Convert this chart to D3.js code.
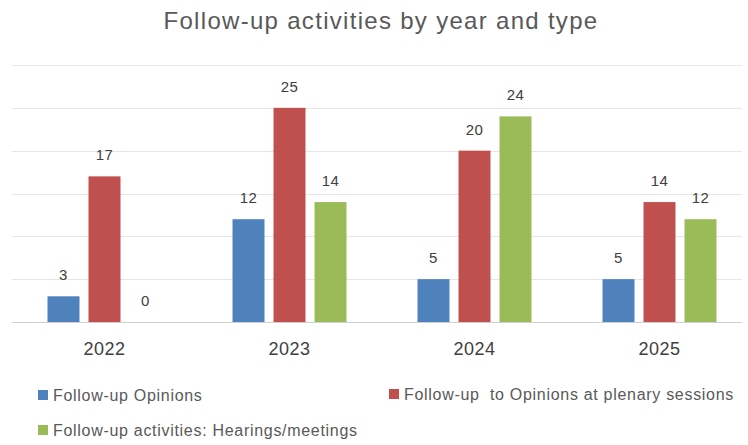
<!DOCTYPE html>
<html>
<head>
<meta charset="utf-8">
<script src="https://cdn.jsdelivr.net/npm/d3@7"></script>
<style>
  html, body { margin: 0; padding: 0; background: #fff; }
  svg { display: block; }
</style>
</head>
<body>
<div id="chart"></div>
<script>
(function () {
	// Data
	const YEARS = ["2022", "2023", "2024", "2025"];
	const SERIES = [
		"Follow-up Opinions",
		"Follow-up  to Opinions at plenary sessions",
		"Follow-up activities: Hearings/meetings",
	];
	const OPINIONS = [3, 12, 5, 5];
	const PLENARY = [17, 25, 20, 14];
	const HEARINGS = [0, 14, 24, 12];
	const Y_TICKS = [0, 5, 10, 15, 20, 25, 30];

	const COLORS = ["#4F81BD", "#C0504D", "#9BBB59"];
	const TEXT = "#595959";
	const FONT = "'Liberation Sans', Arial, sans-serif";

	const width = 748;
	const height = 445;

	const svg = d3.select("#chart")
		.append("svg")
		.attr("width", width)
		.attr("height", height);

	// Title
	svg.append("text")
		.attr("x", 381)
		.attr("y", 29)
		.attr("text-anchor", "middle")
		.style("font-family", FONT)
		.style("font-size", "24px")
		.style("letter-spacing", "1.3px")
		.style("fill", TEXT)
		.text("Follow-up activities by year and type");

	const data = YEARS.map((yr, i) => ({
		year: yr,
		values: [OPINIONS[i], PLENARY[i], HEARINGS[i]],
	}));

	// Scales
	const x0 = d3.scaleBand().domain(YEARS).range([12, 752]).padding(0);
	const x1 = d3.scaleBand().domain(d3.range(SERIES.length)).range([0, 114]).paddingInner(0.22).paddingOuter(0);
	const y = d3.scaleLinear().domain([0, 30]).range([322, 65]);
	const groupOffset = (x0.bandwidth() - 114) / 2;

	// Gridlines
	svg.append("g")
		.selectAll("line")
		.data(Y_TICKS)
		.join("line")
		.attr("x1", 12)
		.attr("x2", 742)
		.attr("y1", d => Math.round(y(d)) + 0.5)
		.attr("y2", d => Math.round(y(d)) + 0.5)
		.attr("stroke", d => (d === 0 ? "#D0D0D0" : "#E6E6E6"))
		.attr("stroke-width", 1.2);

	// Bars
	const groups = svg.append("g")
		.selectAll("g.year")
		.data(data)
		.join("g")
		.attr("class", "year")
		.attr("transform", d => `translate(${x0(d.year) + groupOffset},0)`);

	groups.selectAll("rect")
		.data(d => d.values.map((v, k) => ({ v, k })))
		.join("rect")
		.attr("x", d => x1(d.k))
		.attr("width", x1.bandwidth())
		.attr("y", d => y(d.v))
		.attr("height", d => y(0) - y(d.v))
		.attr("fill", d => COLORS[d.k]);

	groups.selectAll("text")
		.data(d => d.values.map((v, k) => ({ v, k })))
		.join("text")
		.attr("x", d => x1(d.k) + x1.bandwidth() / 2)
		.attr("y", d => y(d.v) - 16)
		.attr("text-anchor", "middle")
		.style("font-family", FONT)
		.style("font-size", "15px")
		.style("letter-spacing", "0.5px")
		.style("fill", "#404040")
		.text(d => d.v);

	// X axis labels
	const xAxis = svg.append("g")
		.attr("transform", `translate(0, ${y(0)})`)
		.call(d3.axisBottom(x0).tickSize(0).tickPadding(20));
	xAxis.select(".domain").remove();
	xAxis.selectAll("text")
		.style("font-family", FONT)
		.style("font-size", "18px")
		.style("letter-spacing", "0.5px")
		.style("fill", "#404040");

	// Legend
	const legendPos = [
		{ x: 38, y: 395 },
		{ x: 389, y: 394 },
		{ x: 38, y: 430 },
	];
	const legend = svg.append("g")
		.selectAll("g.leg")
		.data(SERIES)
		.join("g")
		.attr("class", "leg")
		.attr("transform", (d, i) => `translate(${legendPos[i].x},${legendPos[i].y})`);
	legend.append("rect")
		.attr("x", 0)
		.attr("y", -5)
		.attr("width", 10)
		.attr("height", 10)
		.attr("fill", (d, i) => COLORS[i]);
	legend.append("text")
		.attr("x", 15)
		.attr("y", 5.5)
		.style("font-family", FONT)
		.style("font-size", "16px")
		.style("letter-spacing", "0.7px")
		.style("fill", TEXT)
		.style("white-space", "pre")
		.text(d => d);
})();
</script>
</body>
</html>
